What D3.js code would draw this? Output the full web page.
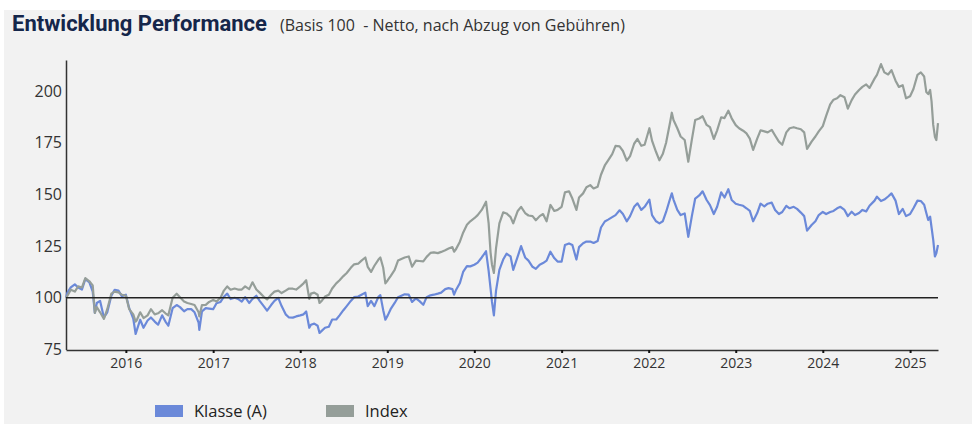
<!DOCTYPE html>
<html>
<head>
<meta charset="utf-8">
<script src="https://cdn.jsdelivr.net/npm/d3@7"></script>
<style>
  body { margin: 0; background: #fff; }
  svg { display: block; }
</style>
</head>
<body>
<svg id="chart"></svg>
<script>
// dates (semi-monthly, plus a few turning points)
const dates = [
  "2015-04-25","2015-05-01","2015-05-15","2015-06-01","2015-06-15","2015-07-01","2015-07-15","2015-08-01","2015-08-15","2015-08-24",
  "2015-09-01","2015-09-15","2015-10-01","2015-10-15","2015-11-01","2015-11-15","2015-12-01","2015-12-15",
  "2016-01-01","2016-01-15","2016-02-01","2016-02-11","2016-02-15","2016-03-01","2016-03-15","2016-04-01","2016-04-15","2016-05-01",
  "2016-05-15","2016-06-01","2016-06-15","2016-06-27","2016-07-15","2016-08-01","2016-08-15","2016-09-01","2016-09-15","2016-10-01",
  "2016-10-15","2016-11-01","2016-11-04","2016-11-15","2016-12-01","2016-12-15",
  "2017-01-01","2017-01-15","2017-02-01","2017-02-15","2017-03-01","2017-03-15","2017-04-01","2017-04-15","2017-05-01","2017-05-15",
  "2017-06-01","2017-06-15","2017-07-01","2017-07-15","2017-08-01","2017-08-15","2017-09-01","2017-09-15","2017-10-01","2017-10-15",
  "2017-11-01","2017-11-15","2017-12-01","2017-12-15",
  "2018-01-01","2018-01-15","2018-01-26","2018-02-08","2018-02-15","2018-03-01","2018-03-15","2018-03-23","2018-04-01","2018-04-15",
  "2018-05-01","2018-05-15","2018-06-01","2018-06-15","2018-07-01","2018-07-15","2018-08-01","2018-08-15","2018-09-01","2018-09-15",
  "2018-10-01","2018-10-11","2018-10-25","2018-11-08","2018-11-25","2018-12-03","2018-12-15","2018-12-24",
  "2019-01-03","2019-01-15","2019-02-01","2019-02-15","2019-03-01","2019-03-15","2019-04-01","2019-04-15","2019-05-01","2019-05-15",
  "2019-06-01","2019-06-15","2019-07-01","2019-07-15","2019-08-01","2019-08-15","2019-09-01","2019-09-15","2019-10-01","2019-10-08",
  "2019-10-15","2019-11-01","2019-11-15","2019-12-01","2019-12-15",
  "2020-01-01","2020-01-15","2020-02-01","2020-02-19","2020-03-01","2020-03-09","2020-03-15","2020-03-23","2020-04-01","2020-04-15",
  "2020-05-01","2020-05-15","2020-06-01","2020-06-12","2020-07-01","2020-07-15","2020-08-01","2020-08-15","2020-09-01","2020-09-15",
  "2020-10-01","2020-10-15","2020-10-30","2020-11-15","2020-12-01","2020-12-15",
  "2021-01-01","2021-01-15","2021-02-01","2021-02-15","2021-03-04","2021-03-15","2021-04-01","2021-04-15","2021-05-01","2021-05-15",
  "2021-06-01","2021-06-15","2021-07-01","2021-07-15","2021-08-01","2021-08-15","2021-09-01","2021-09-15","2021-10-01","2021-10-15",
  "2021-11-01","2021-11-15","2021-12-01","2021-12-15",
  "2022-01-04","2022-01-15","2022-02-01","2022-02-15","2022-03-01","2022-03-15","2022-04-01","2022-04-08","2022-04-15","2022-05-01",
  "2022-05-15","2022-06-01","2022-06-16","2022-07-01","2022-07-15","2022-08-01","2022-08-15","2022-09-01","2022-09-15","2022-10-01",
  "2022-10-15","2022-11-01","2022-11-15","2022-12-01","2022-12-15",
  "2023-01-01","2023-01-15","2023-02-01","2023-02-15","2023-03-01","2023-03-15","2023-04-01","2023-04-15","2023-05-01","2023-05-15",
  "2023-06-01","2023-06-15","2023-07-01","2023-07-15","2023-08-01","2023-08-15","2023-09-01","2023-09-15","2023-10-01","2023-10-15",
  "2023-10-27","2023-11-15","2023-12-01","2023-12-15",
  "2024-01-01","2024-01-15","2024-02-01","2024-02-15","2024-03-01","2024-03-15","2024-04-01","2024-04-15","2024-05-01","2024-05-15",
  "2024-06-01","2024-06-15","2024-07-01","2024-07-15","2024-08-05","2024-08-15","2024-09-01","2024-09-15","2024-10-01","2024-10-15",
  "2024-11-01","2024-11-15","2024-12-01","2024-12-15",
  "2025-01-01","2025-01-15","2025-02-01","2025-02-15","2025-03-01","2025-03-10","2025-03-18","2025-03-26","2025-04-01","2025-04-08",
  "2025-04-15","2025-04-21","2025-04-28"
];

const klasse = [
  100, 102.5, 105, 106.5, 105, 104, 109, 107.5, 103, 92.7,
  97.5, 98.5, 90.5, 93, 101, 103.9, 103.5, 100.8,
  101.5, 95, 90, 82.5, 84, 89.4, 85.5, 89, 90.5, 88.5,
  87, 91.5, 88.5, 86.5, 95, 96.5, 95.5, 93.5, 94.5, 94.5,
  93, 88, 84.5, 93.4, 95, 94.8,
  94.5, 97.4, 98, 100.5, 102, 99.4, 100, 99.5, 98.2, 100.3,
  97.5, 99.5, 101, 98.5, 96, 93.8, 96.5, 98.5, 100, 96,
  92, 90.5, 90.4, 91,
  91.5, 92, 93.4, 85.5, 87, 87.5, 86.5, 83, 84, 85.5,
  86, 89.5, 89.5, 91.5, 94, 96, 98.5, 100.3, 100.6, 101.5,
  102.5, 96, 98.5, 96, 100.5, 101.3, 94, 89.4,
  91.5, 94.5, 97.5, 100.3, 101, 101.7, 101.5, 98, 99.7, 98.5,
  96.6, 100.3, 101.2, 101.5, 102, 102.5, 104.2, 104.7, 104.2, 101.5,
  103.5, 107, 112.5, 115.3, 115.2,
  116, 117, 119.5, 122.5, 113, 104.5, 98, 91.5, 103.5, 113.5,
  118.5, 121.3, 120, 113.5, 120, 125, 119.5, 118, 115, 114,
  116, 116.8, 118, 122.3, 119.2, 117.5,
  117.5, 125.5, 126.3, 125.5, 118.5, 124.5, 126.4, 127.2, 127.2, 126.5,
  127.5, 134, 136.9, 137.8, 139, 140, 142.3, 140.5, 137, 139.5,
  144, 145.7, 142.5, 144,
  147.5, 140, 137, 136, 137, 141.5, 148, 150.5, 147.5, 142.5,
  140, 140.8, 129.5, 139.5, 148, 149.5, 151.5, 147.3, 144.8, 140.5,
  144, 151, 148.5, 152.5, 147.3,
  145.5, 145, 144.5, 143.3, 142, 137, 141, 145.5, 144.2, 145.5,
  146, 142.5, 140.5, 141.5, 144.5, 143.3, 144, 143, 141.2, 139.5,
  132.5, 135.2, 137, 140,
  141.5, 140.5, 141.5, 142, 143.3, 144, 142.5, 139.5, 141.6, 140,
  141, 142.5, 141.8, 144.5, 147, 148.9, 146.8, 147.5, 149, 150.5,
  147, 140.5, 143, 139.5,
  140.5, 143.3, 147, 146.8, 145, 141, 137.6, 139.2, 134, 128,
  120, 121.5, 125.5
];

const index = [
  100, 101, 103.9, 103, 105.5, 105, 109.5, 108, 106, 92.7,
  95.5, 93, 89.8, 94.5, 102, 103, 102.6, 101.5,
  101, 94.5, 92, 88.5, 89, 93, 90.2, 91.5, 94.5, 92,
  92.5, 94, 92.5, 91.5, 100, 102, 100.3, 98.2, 97.5, 97,
  96.5, 93, 91, 96.5, 96.6, 98,
  99, 98.2, 100, 103.5, 105.5, 103.9, 104.5, 104, 104, 105.5,
  104.2, 107.5, 104, 102.5, 100.5, 99.2, 101.5, 103, 103.5, 102.3,
  103.5, 104.5, 104.4, 104,
  105.5, 107, 108.5, 99.5, 102, 102.5, 101.5, 97.5, 98.5, 100.6,
  101.5, 104.5, 107, 108.5, 110.5, 112, 114.5, 116.2, 116.5, 118,
  119.5, 115, 112.5, 115.5, 118.5, 119.5, 114.5, 107,
  108.5, 110.5, 113.5, 118, 118.8, 119.5, 120, 115, 118, 117.8,
  117.6, 119.8, 121.7, 122, 121.6, 122.2, 123, 123.8, 124.5, 122.3,
  123.3, 127, 131.5, 135.3, 137,
  138.5, 140, 142.5, 146.5, 136, 122, 116, 112, 124, 136,
  141.3, 140.8, 139, 136, 142, 144, 141, 139.8, 139.5, 137.5,
  139.5, 140.5, 137, 144.9, 142, 142.5,
  144, 151, 151.5, 148, 142.5, 148.5, 150.5, 153.5, 154.5, 152.9,
  153.7, 159.5, 164, 166.5, 169.5, 173.5, 173.2, 171, 166.3, 168.5,
  174.5, 176.8, 173.5, 174,
  182, 176, 170.5, 166.5, 169.5, 175, 185, 189.5, 186, 182,
  178, 176.3, 165.8, 176.5, 186, 186.7, 187.8, 183.6, 182.5, 176.8,
  181, 187.3, 186.9, 190.5, 186.8,
  183.5, 182, 180.8, 179.5, 177, 171.5, 177, 181, 180.5, 180,
  181.2, 178.5, 175.5, 174, 180, 182, 182.5, 182, 181.5, 180,
  172, 175.5, 178, 180.5,
  183, 188, 193.5, 195.8, 196.5, 198, 197, 191.5, 195.6, 198.3,
  200.5, 202, 203.2, 201.5, 206, 207.8, 213, 209, 208, 210.1,
  205, 202, 202.8, 196.5,
  197.5, 201, 207.8, 209, 207, 199.5, 198.5, 200.5, 195, 183.6,
  177.9, 176.3, 184.5
];

const yTicks = [75, 100, 125, 150, 175, 200];
const seriesNames = ["Klasse (A)", "Index"];
const seriesColors = ["#6b89d9", "#959e99"];

const W = 978, H = 427;
const parseDate = d3.timeParse("%Y-%m-%d");

const svg = d3.select("#chart").attr("width", W).attr("height", H);

svg.append("rect")
    .attr("x", 4).attr("y", 10)
    .attr("width", 968).attr("height", 414)
    .attr("fill", "#f2f2f2");

svg.append("text")
    .attr("x", 12).attr("y", 31)
    .style("font-family", "Roboto, sans-serif")
    .style("font-weight", 700)
    .style("font-size", "22px")
    .attr("fill", "#15264a")
    .text("Entwicklung Performance");

svg.append("text")
    .attr("x", 280).attr("y", 31)
    .attr("xml:space", "preserve")
    .style("white-space", "pre")
    .style("font-family", "'Open Sans', sans-serif")
    .style("font-size", "16px")
    .attr("fill", "#333")
    .text("(Basis 100  - Netto, nach Abzug von Gebühren)");

const x = d3.scaleTime()
    .domain([parseDate("2015-04-25"), parseDate("2025-04-28")])
    .range([66, 938]);
const y = d3.scaleLinear()
    .domain([75, 215])
    .range([349.5, 60]);

// y axis
const yAxis = svg.append("g")
    .attr("transform", "translate(66,0)")
    .call(d3.axisLeft(y).tickValues(yTicks).tickSize(0).tickSizeOuter(0).tickPadding(4));
yAxis.select(".domain").attr("stroke", "#333").attr("stroke-width", 1.5);
yAxis.selectAll("text")
    .style("font-family", "'Open Sans', sans-serif")
    .style("font-size", "16px")
    .attr("fill", "#333");

// x axis
const xAxis = svg.append("g")
    .attr("transform", "translate(0,350)")
    .call(d3.axisBottom(x).ticks(d3.timeYear.every(1)).tickFormat(d3.timeFormat("%Y"))
      .tickSize(3).tickSizeOuter(0).tickPadding(5));
xAxis.select(".domain").attr("stroke", "#333").attr("stroke-width", 1.5);
xAxis.selectAll(".tick line").attr("stroke", "#111").attr("stroke-width", 2);
xAxis.selectAll("text")
    .style("font-family", "'Open Sans', sans-serif")
    .style("font-size", "14px")
    .attr("fill", "#333");

const rows = dates.map((d, i) => ({date: parseDate(d), k: klasse[i], ix: index[i]}));

const lineK = d3.line().x(d => x(d.date)).y(d => y(d.k));
const lineI = d3.line().x(d => x(d.date)).y(d => y(d.ix));

svg.append("path")
    .datum(rows)
    .attr("fill", "none")
    .attr("stroke", seriesColors[0])
    .attr("stroke-width", 2.2)
    .attr("stroke-linejoin", "round")
    .attr("d", lineK);

svg.append("path")
    .datum(rows)
    .attr("fill", "none")
    .attr("stroke", seriesColors[1])
    .attr("stroke-width", 2.2)
    .attr("stroke-linejoin", "round")
    .attr("d", lineI);

// basis line at 100
svg.append("line")
    .attr("x1", x.range()[0]).attr("x2", x.range()[1])
    .attr("y1", y(100)).attr("y2", y(100))
    .attr("stroke", "#222")
    .attr("stroke-width", 1.5);

// legend
const legendX = [155, 326];
const legend = svg.append("g");
seriesNames.forEach(function(name, i) {
  legend.append("rect")
      .attr("x", legendX[i]).attr("y", 405)
      .attr("width", 28).attr("height", 12)
      .attr("fill", seriesColors[i]);
  legend.append("text")
      .attr("x", legendX[i] + 39).attr("y", 417)
      .style("font-family", "'Open Sans', sans-serif")
      .style("font-size", "16.5px")
      .attr("fill", "#222")
      .text(name);
});
</script>
</body>
</html>
